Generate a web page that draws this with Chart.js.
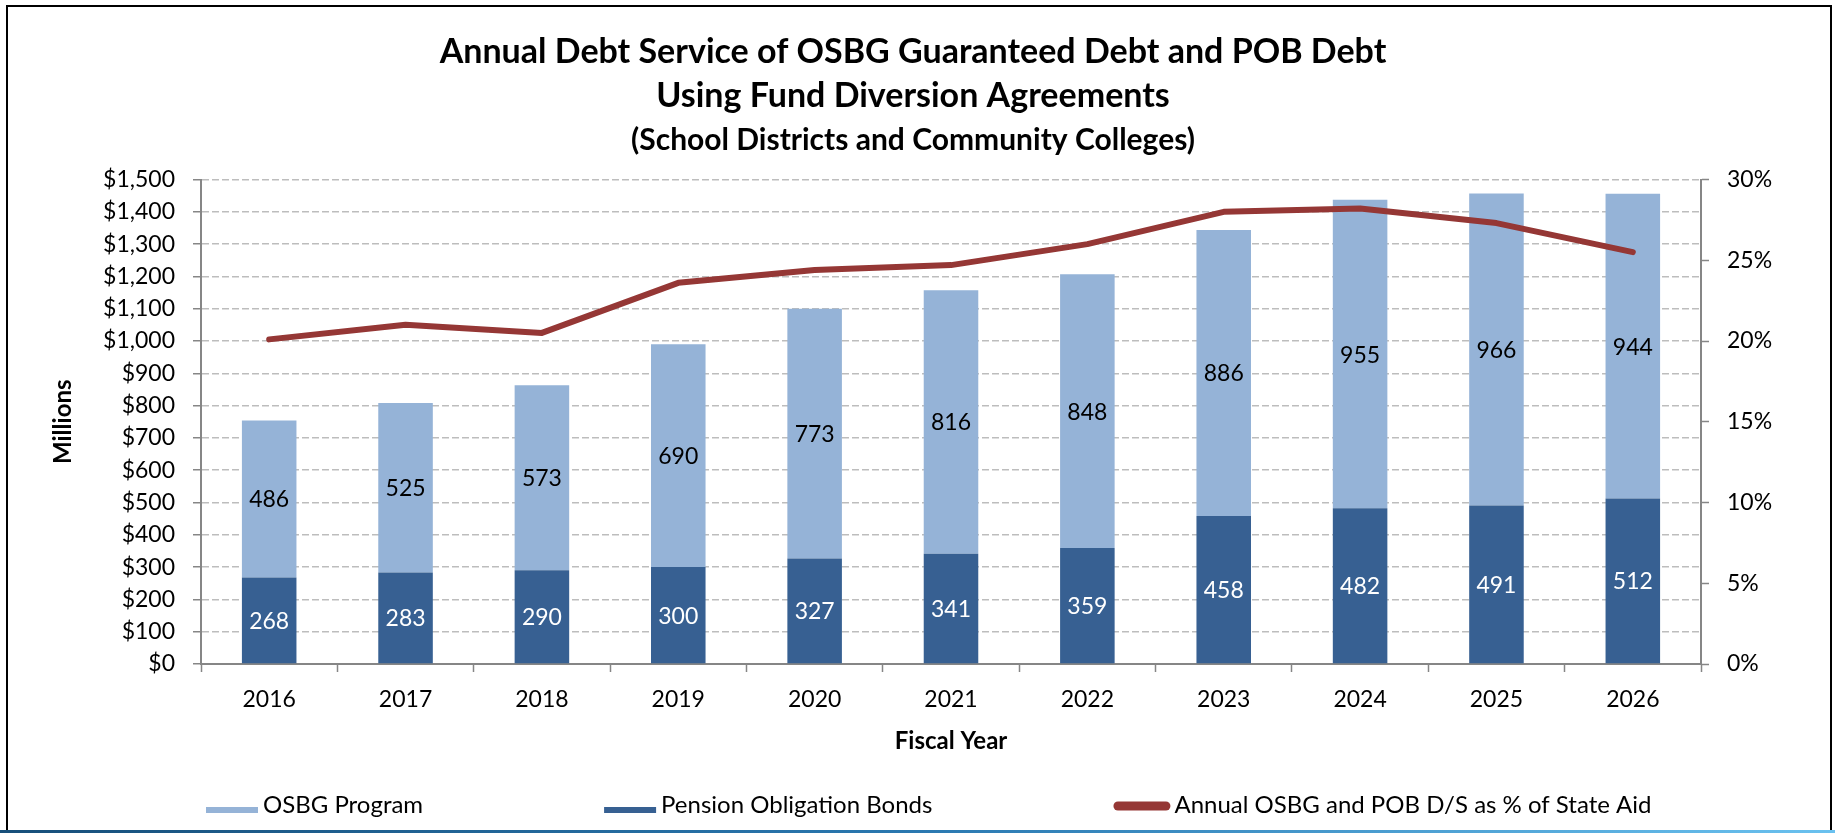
<!DOCTYPE html>
<html>
<head>
<meta charset="utf-8">
<title>Annual Debt Service of OSBG Guaranteed Debt and POB Debt</title>
<script src="https://cdn.jsdelivr.net/npm/chart.js@4.4.1/dist/chart.umd.min.js"></script>
<style>
	html, body { margin : 0; padding : 0; background : #fff; }
	#frame {
		position : absolute; left : 6px; top : 5px; width : 1826px; height : 828px;
		border : 2px solid #000; border-bottom : none; box-sizing : border-box;
	}
	#wrap { position : absolute; left : 8px; top : 7px; width : 1821px; height : 823px; }
	#strip {
		position : absolute; left : 0; top : 830px; width : 1835px; height : 3px;
		background : linear-gradient(to right, #174f7a 0%, #2a78b0 50%, #6ac1ef 100%);
	}
</style>
</head>
<body>
<div id="frame"></div>
<div id="wrap"><canvas id="debt-service"></canvas></div>
<div id="strip"></div>

<script>
var years = ["2016", "2017", "2018", "2019", "2020", "2021", "2022", "2023", "2024", "2025", "2026"];

// $ millions
var osbgProgram = [486, 525, 573, 690, 773, 816, 848, 886, 955, 966, 944];
var pensionBonds = [268, 283, 290, 300, 327, 341, 359, 458, 482, 491, 512];

// percent of state aid
var pctStateAid = [20.1, 21.0, 20.5, 23.6, 24.4, 24.7, 26.0, 28.0, 28.2, 27.3, 25.5];

var titleLines = ["Annual Debt Service of OSBG Guaranteed Debt and POB Debt", "Using Fund Diversion Agreements"];
var subtitleText = "(School Districts and Community Colleges)";

var lightBlue = "#95b3d7";
var darkBlue = "#376092";
var darkRed = "#953735";
var axisGrey = "#868686";

Chart.defaults.font.family = "Lato, 'Open Sans', sans-serif";
Chart.defaults.font.size = 23;
Chart.defaults.color = "#000";

// value labels in the middle of each bar segment
var barLabels = {
	id : "barLabels",
	afterDatasetsDraw : function(chart) {
		var ctx = chart.ctx;
		ctx.save();
		ctx.font = "23px Lato";
		ctx.textAlign = "center";
		ctx.textBaseline = "middle";
		chart.data.datasets.forEach(function(ds, i) {
			if (ds.type !== "bar") return;
			ctx.fillStyle = ds.labelColor;
			chart.getDatasetMeta(i).data.forEach(function(bar, j) {
				ctx.fillText(ds.data[j], bar.x, (bar.y + bar.base) / 2 + 1);
			});
		});
		ctx.restore();
	}
};

// legend row under the axis title, laid out like the spreadsheet one
var bottomLegend = {
	id : "bottomLegend",
	afterDraw : function(chart) {
		var ctx = chart.ctx;
		var sets = chart.data.datasets;
		var order = [2, 1, 0];
		var x = chart.chartArea.left + 5;
		var textY = chart.height - 25;
		var markY = chart.height - 20;
		ctx.save();
		ctx.font = "24px Lato";
		ctx.textBaseline = "middle";
		order.forEach(function(i) {
			var ds = sets[i];
			var textX;
			if (ds.type === "line") {
				ctx.strokeStyle = ds.borderColor;
				ctx.lineWidth = 9;
				ctx.lineCap = "round";
				ctx.beginPath();
				ctx.moveTo(x + 4.5, markY - 4);
				ctx.lineTo(x + 52.5, markY - 4);
				ctx.stroke();
				textX = x + 61;
			} else {
				ctx.fillStyle = ds.backgroundColor;
				ctx.fillRect(x, markY - 3, 52, 6);
				textX = x + 57;
			}
			ctx.fillStyle = "#000";
			ctx.fillText(ds.label, textX, textY);
			x = textX + ctx.measureText(ds.label).width + 181;
		});
		ctx.restore();
	}
};

var data = {
	labels : years,
	datasets : [
		{
			type : "line",
			label : "Annual OSBG and POB D/S as % of State Aid",
			data : pctStateAid,
			yAxisID : "y1",
			borderColor : darkRed,
			backgroundColor : darkRed,
			borderWidth : 6,
			borderCapStyle : "round",
			borderJoinStyle : "round",
			tension : 0,
			pointRadius : 0,
			fill : false,
			order : 0
		},
		{
			type : "bar",
			label : "Pension Obligation Bonds",
			data : pensionBonds,
			yAxisID : "y",
			backgroundColor : darkBlue,
			labelColor : "#fff",
			categoryPercentage : 1,
			barPercentage : 0.4,
			order : 1
		},
		{
			type : "bar",
			label : "OSBG Program",
			data : osbgProgram,
			yAxisID : "y",
			backgroundColor : lightBlue,
			labelColor : "#000",
			categoryPercentage : 1,
			barPercentage : 0.4,
			order : 2
		}
	]
};

var options = {
	responsive : true,
	maintainAspectRatio : false,
	animation : false,
	layout : {
		padding : { left : 37, right : 48, top : 0, bottom : 74 }
	},
	plugins : {
		legend : { display : false },
		tooltip : { enabled : false },
		title : {
			display : true,
			text : titleLines,
			font : { size : 34, weight : "bold", lineHeight : 44 / 34 },
			padding : { top : 23.5, bottom : 0 }
		},
		subtitle : {
			display : true,
			text : subtitleText,
			color : "#000",
			font : { size : 30, weight : "bold", lineHeight : 1.2 },
			padding : { top : 4, bottom : 21 }
		}
	},
	scales : {
		x : {
			stacked : true,
			afterFit : function(s) { s.height = 92; },
			border : { display : true, color : axisGrey, width : 2 },
			grid : {
				display : true,
				drawOnChartArea : false,
				drawTicks : true,
				tickLength : 8,
				tickColor : axisGrey,
				tickWidth : 1.5
			},
			ticks : { padding : 14, maxRotation : 0 },
			title : {
				display : true,
				text : "Fiscal Year",
				font : { size : 24, weight : "bold" },
				padding : { top : 0, bottom : 0 }
			}
		},
		y : {
			stacked : true,
			position : "left",
			min : 0,
			max : 1500,
			afterFit : function(s) { s.width = 156; },
			border : { display : true, color : axisGrey, width : 2, dash : [7, 3] },
			grid : {
				color : "#bdbdbd",
				lineWidth : 1.5,
				tickLength : 8,
				tickColor : axisGrey,
				tickWidth : 1.5,
				tickBorderDash : []
			},
			ticks : {
				stepSize : 100,
				padding : 18,
				callback : function(v) { return "$" + v.toLocaleString("en-US"); }
			},
			title : {
				display : true,
				text : "Millions",
				font : { size : 24, weight : "bold" },
				padding : { top : 4, bottom : 0 }
			}
		},
		y1 : {
			position : "right",
			min : 0,
			max : 30,
			afterFit : function(s) { s.width = 80; },
			border : { display : true, color : axisGrey, width : 2 },
			grid : {
				drawOnChartArea : false,
				tickLength : 8,
				tickColor : axisGrey,
				tickWidth : 1.5
			},
			ticks : {
				stepSize : 5,
				padding : 18,
				callback : function(v) { return v + "%"; }
			}
		}
	}
};

var chart = new Chart(document.getElementById("debt-service"), {
	data : data,
	options : options,
	plugins : [barLabels, bottomLegend]
});
</script>
</body>
</html>
